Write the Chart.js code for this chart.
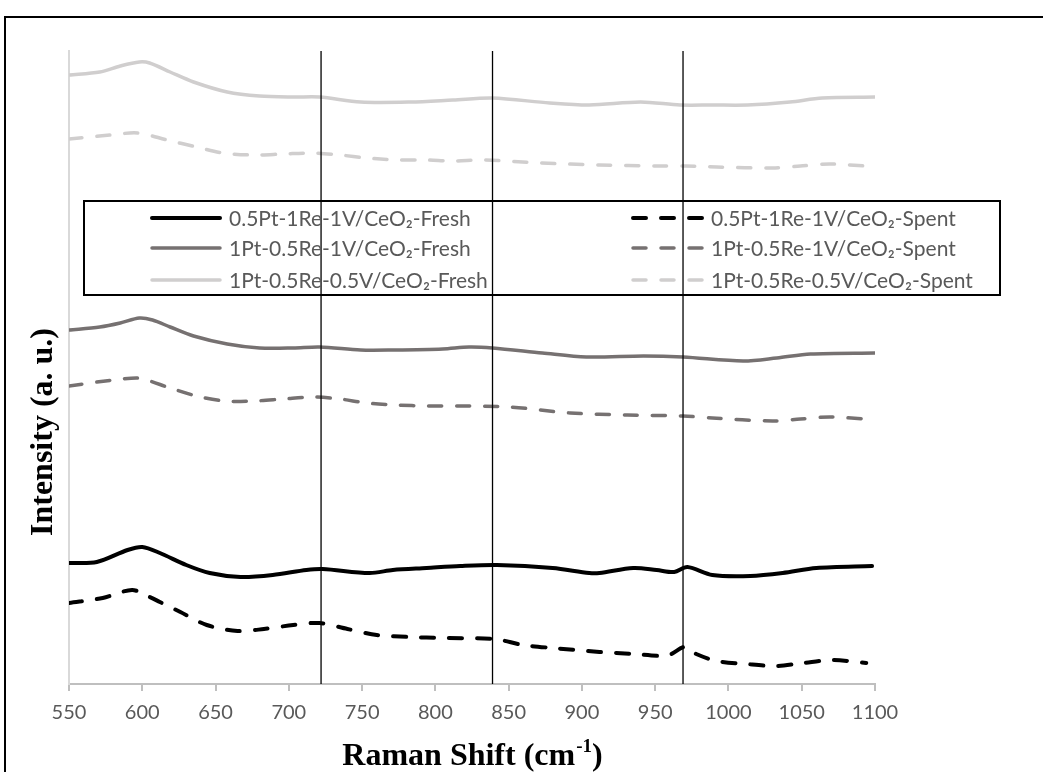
<!DOCTYPE html>
<html lang="en">
<head>
  <meta charset="UTF-8">
  <title>Raman spectra – Pt-Re-V/CeO2 fresh and spent</title>
  <script src="https://cdn.jsdelivr.net/npm/chart.js"></script>
  <style>
    body { margin: 0; background: #fff; }
    #wrap { width: 1043px; height: 772px; position: relative; }
  </style>
</head>
<body>
  <div id="wrap">
    <canvas id="ramanChart" width="1043" height="772"></canvas>
  </div>
  <script>
    // Series names (legend order: fresh column, spent column)
    const seriesNames = [
      '0.5Pt-1Re-1V/CeO\u2082-Fresh',
      '1Pt-0.5Re-1V/CeO\u2082-Fresh',
      '1Pt-0.5Re-0.5V/CeO\u2082-Fresh',
      '0.5Pt-1Re-1V/CeO\u2082-Spent',
      '1Pt-0.5Re-1V/CeO\u2082-Spent',
      '1Pt-0.5Re-0.5V/CeO\u2082-Spent'
    ];

    // Raman shift (cm-1) and intensity (a.u., offset stacked)
    const shiftA_fresh = [550, 569, 590, 600, 612, 630, 646, 667, 689, 712, 723, 755, 771, 794, 817, 842, 880, 905, 912, 935, 951, 963, 972, 989, 1015, 1037, 1060, 1098];
    const intA_fresh   = [121, 122, 134, 137, 131, 119, 111, 107, 109, 114, 115, 111, 114, 116, 118, 119, 116, 111, 111, 116, 114, 112, 117, 109, 108, 111, 116, 118];

    const shiftA_spent = [550, 573, 593, 605, 612, 626, 644, 665, 683, 703, 721, 740, 760, 783, 805, 840, 860, 880, 912, 935, 955, 961, 970, 978, 992, 1012, 1033, 1051, 1071, 1094];
    const intA_spent   = [81, 86, 94, 87, 82, 72, 59, 53, 55, 59, 61, 55, 49, 47, 46, 45, 39, 36, 32, 30, 28, 30, 37, 30, 23, 20, 18, 21, 24, 21];

    const shiftB_fresh = [550, 571, 585, 598, 607, 619, 635, 658, 680, 703, 721, 749, 771, 805, 823, 839, 873, 903, 942, 969, 1010, 1033, 1056, 1100];
    const intB_fresh   = [354, 357, 361, 366, 364, 357, 348, 340, 336, 336, 337, 334, 334, 335, 337, 336, 331, 327, 328, 327, 323, 326, 330, 331];

    const shiftB_spent = [550, 580, 596, 603, 619, 637, 656, 676, 696, 717, 735, 753, 774, 794, 815, 851, 892, 931, 969, 989, 1030, 1049, 1069, 1094];
    const intB_spent   = [298, 304, 306, 304, 296, 288, 283, 283, 285, 287, 285, 281, 279, 278, 278, 277, 271, 269, 268, 266, 263, 265, 267, 265];

    const shiftC_fresh = [550, 571, 585, 598, 605, 619, 635, 658, 680, 703, 721, 749, 783, 812, 839, 878, 905, 940, 967, 989, 1013, 1042, 1064, 1100];
    const intC_fresh   = [609, 612, 618, 622, 621, 612, 602, 592, 588, 587, 587, 582, 582, 584, 586, 581, 579, 582, 579, 579, 579, 582, 586, 587];

    const shiftC_spent = [550, 578, 597, 617, 637, 655, 676, 696, 717, 735, 753, 774, 794, 812, 833, 872, 912, 951, 971, 992, 1030, 1049, 1069, 1094];
    const intC_spent   = [545, 549, 551, 544, 537, 531, 529, 530, 531, 529, 526, 524, 524, 523, 524, 521, 519, 518, 518, 517, 516, 518, 520, 518];

    // Marker positions (cm-1) of the vertical reference lines
    const markerShifts = [722, 839, 969];
    const intensityRange = [0, 633];
    const xTicks = [550, 600, 650, 700, 750, 800, 850, 900, 950, 1000, 1050, 1100];

    const BLACK = '#000000';
    const DARK = '#767171';
    const LIGHT = '#d0cece';

    function pts(xs, ys) {
      return xs.map((x, i) => ({ x: x, y: ys[i] }));
    }

    function series(label, xs, ys, color, dashed, width) {
      return {
        label: label,
        data: pts(xs, ys),
        borderColor: color,
        borderWidth: width,
        borderDash: dashed ? [13, 15] : [],
        borderCapStyle: 'round',
        borderJoinStyle: 'round',
        pointRadius: 0,
        tension: 0.3,
        fill: false,
        order: 2
      };
    }

    const datasets = [
      series(seriesNames[0], shiftA_fresh, intA_fresh, BLACK, false, 4),
      series(seriesNames[1], shiftB_fresh, intB_fresh, DARK, false, 3.5),
      series(seriesNames[2], shiftC_fresh, intC_fresh, LIGHT, false, 3.5),
      series(seriesNames[3], shiftA_spent, intA_spent, BLACK, true, 4),
      series(seriesNames[4], shiftB_spent, intB_spent, DARK, true, 3.5),
      series(seriesNames[5], shiftC_spent, intC_spent, LIGHT, true, 3.5)
    ];

    // vertical marker lines, drawn on top
    markerShifts.forEach(m => {
      datasets.push({
        label: 'marker',
        data: [{ x: m, y: intensityRange[0] }, { x: m, y: intensityRange[1] }],
        borderColor: '#000',
        borderWidth: 1.3,
        pointRadius: 0,
        fill: false,
        order: 1
      });
    });

    // Frame, axis titles and the boxed legend
    const decor = {
      id: 'decor',
      afterDraw(chart) {
        const ctx = chart.ctx;
        ctx.save();

        // outer frame (only left and top edges show in the picture)
        ctx.strokeStyle = '#000';
        ctx.lineWidth = 2;
        ctx.strokeRect(5, 17, 1200, 1000);

        // y axis title
        ctx.fillStyle = '#000';
        ctx.font = 'bold 32px "Liberation Serif"';
        ctx.textAlign = 'center';
        ctx.textBaseline = 'middle';
        ctx.translate(44, 432);
        ctx.rotate(-Math.PI / 2);
        ctx.fillText('Intensity (a. u.)', 0, 0);
        ctx.setTransform(1, 0, 0, 1, 0, 0);

        // x axis title with superscript
        const area = chart.chartArea;
        const cx = (area.left + area.right) / 2;
        const main1 = 'Raman Shift (cm';
        const sup = '-1';
        const main2 = ')';
        ctx.textAlign = 'left';
        ctx.textBaseline = 'alphabetic';
        ctx.font = 'bold 32px "Liberation Serif"';
        const w1 = ctx.measureText(main1).width;
        const w3 = ctx.measureText(main2).width;
        ctx.font = 'bold 19px "Liberation Serif"';
        const w2 = ctx.measureText(sup).width;
        const x0 = cx - (w1 + w2 + w3) / 2;
        const base = 765;
        ctx.font = 'bold 32px "Liberation Serif"';
        ctx.fillText(main1, x0, base);
        ctx.font = 'bold 19px "Liberation Serif"';
        ctx.fillText(sup, x0 + w1 + 1, base - 13);
        ctx.font = 'bold 32px "Liberation Serif"';
        ctx.fillText(main2, x0 + w1 + w2 + 1, base);

        // legend box
        ctx.strokeStyle = '#000';
        ctx.lineWidth = 2;
        ctx.strokeRect(84, 201, 916, 94);

        const rowsY = [218, 248, 280];
        const cols = [
          { sx0: 152, sx1: 220, tx: 229 },
          { sx0: 633, sx1: 703, tx: 711 }
        ];
        ctx.font = '21px Lato';
        ctx.textBaseline = 'middle';
        for (let i = 0; i < 6; i++) {
          const ds = chart.data.datasets[i];
          const col = cols[Math.floor(i / 3)];
          const y = rowsY[i % 3];
          ctx.beginPath();
          ctx.strokeStyle = ds.borderColor;
          ctx.lineWidth = ds.borderWidth;
          ctx.lineCap = 'round';
          ctx.setLineDash(ds.borderDash);
          ctx.moveTo(col.sx0, y);
          ctx.lineTo(col.sx1, y);
          ctx.stroke();
          ctx.setLineDash([]);
          ctx.fillStyle = '#595959';
          ctx.fillText(ds.label, col.tx, y + 1);
        }
        ctx.restore();
      }
    };

    const ctx = document.getElementById('ramanChart').getContext('2d');
    new Chart(ctx, {
      type: 'line',
      data: { datasets: datasets },
      options: {
        responsive: false,
        animation: false,
        layout: { padding: { left: 69, right: 168, top: 51, bottom: 0 } },
        plugins: {
          legend: { display: false },
          tooltip: { enabled: false }
        },
        scales: {
          x: {
            type: 'linear',
            min: xTicks[0],
            max: xTicks[xTicks.length - 1],
            afterBuildTicks: scale => { scale.ticks = xTicks.map(v => ({ value: v })); },
            afterFit: scale => { scale.height = 88; },
            grid: {
              drawOnChartArea: false,
              drawTicks: true,
              tickLength: 7,
              color: '#bfbfbf',
              lineWidth: 2
            },
            border: { display: true, color: '#bfbfbf', width: 2 },
            ticks: {
              color: '#595959',
              font: { family: 'Lato', size: 20 },
              padding: 10,
              maxRotation: 0,
              callback: v => String(v)
            }
          },
          y: {
            min: intensityRange[0],
            max: intensityRange[1],
            afterFit: scale => { scale.width = 0; },
            grid: { display: false },
            border: { display: true, color: '#d9d9d9', width: 2 },
            ticks: { display: false }
          }
        }
      },
      plugins: [decor]
    });
  </script>
</body>
</html>
